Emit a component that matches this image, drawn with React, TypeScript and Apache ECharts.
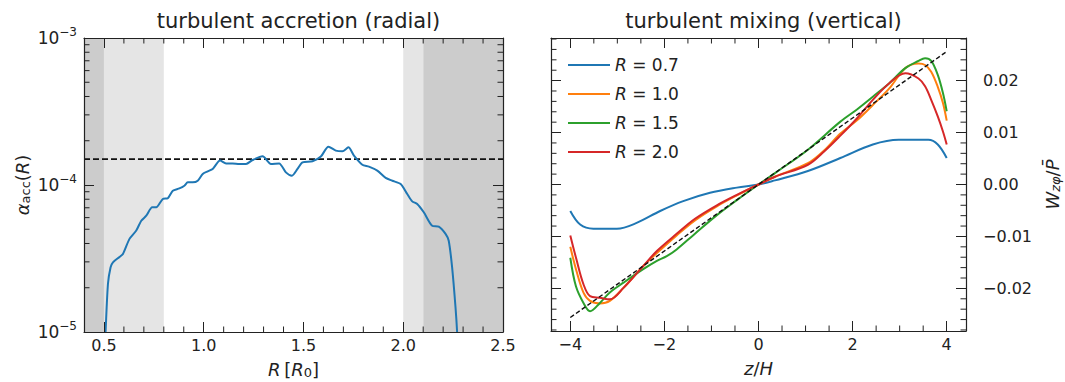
import React, { useEffect, useRef } from "react";
import * as echarts from "echarts";

// ---- radial profile: accretion stress alpha_acc(R) ----
const radius = [0.497, 0.508, 0.52, 0.533, 0.545, 0.578, 0.595, 0.628, 0.662, 0.687, 0.712, 0.742, 0.762, 0.795, 0.82, 0.845, 0.878, 0.903, 0.92, 0.945, 0.97, 0.995, 1.02, 1.045, 1.082, 1.112, 1.145, 1.178, 1.212, 1.245, 1.295, 1.337, 1.378, 1.412, 1.442, 1.47, 1.495, 1.545, 1.587, 1.625, 1.662, 1.695, 1.725, 1.753, 1.795, 1.828, 1.87, 1.912, 1.945, 1.987, 2.02, 2.045, 2.07, 2.103, 2.145, 2.178, 2.212, 2.228, 2.245, 2.262, 2.27, 2.28];
const alphaAcc = [5.0e-6, 1.0e-5, 2.12e-5, 2.75e-5, 2.98e-5, 3.24e-5, 3.39e-5, 4.3e-5, 4.9e-5, 5.71e-5, 6.18e-5, 7.05e-5, 7.05e-5, 8.04e-5, 8.13e-5, 9.14e-5, 9.48e-5, 9.89e-5, 1.042e-4, 1.042e-4, 1.069e-4, 1.189e-4, 1.239e-4, 1.285e-4, 1.466e-4, 1.403e-4, 1.403e-4, 1.39e-4, 1.39e-4, 1.479e-4, 1.567e-4, 1.39e-4, 1.403e-4, 1.219e-4, 1.156e-4, 1.285e-4, 1.426e-4, 1.449e-4, 1.56e-4, 1.824e-4, 1.714e-4, 1.694e-4, 1.803e-4, 1.585e-4, 1.374e-4, 1.334e-4, 1.253e-4, 1.117e-4, 1.069e-4, 1.016e-4, 8.69e-5, 7.74e-5, 7.43e-5, 6.52e-5, 5.28e-5, 5.21e-5, 4.65e-5, 4.18e-5, 2.75e-5, 1.47e-5, 1.0e-5, 5.0e-6];
const alphaMean = 1.5e-4;
const radialRange = [0.4, 2.5];
const alphaRange = [1e-5, 1e-3];
// buffer zones of the domain
const darkZones = [[0.4, 0.5], [2.1, 2.5]];
const lightZones = [[0.5, 0.8], [2.0, 2.1]];

// ---- vertical profiles: W_zphi / P at several radii ----
const zR07 = [-4.0, -3.79, -3.51, -3.01, -2.59, -2.09, -1.6, -1.03, -0.46, 0, 0.35, 1.05, 1.74, 2.43, 2.98, 3.61, 3.81, 4.0];
const wR07 = [-0.0051, -0.0077, -0.0085, -0.0085, -0.0074, -0.0051, -0.0032, -0.0016, -0.0006, 0, 0.0008, 0.0026, 0.0051, 0.0077, 0.0086, 0.0086, 0.0077, 0.0051];

const zR10 = [-4.0, -3.87, -3.72, -3.58, -3.37, -3.16, -2.87, -2.45, -2.16, -1.74, -1.35, -0.885, -0.46, 0, 0.35, 1.05, 1.4, 1.74, 2.1, 2.43, 2.78, 3.12, 3.4, 3.54, 3.67, 3.81, 3.92, 4.0];
const wR10 = [-0.012, -0.0166, -0.0208, -0.0224, -0.0229, -0.0224, -0.0199, -0.0157, -0.0132, -0.0098, -0.0069, -0.0042, -0.0021, 0, 0.0015, 0.0041, 0.0066, 0.0098, 0.0124, 0.0153, 0.0185, 0.0224, 0.0233, 0.023, 0.0217, 0.0188, 0.0157, 0.0123];

const zR15 = [-4.0, -3.88, -3.72, -3.58, -3.37, -3.16, -2.87, -2.45, -2.16, -1.95, -1.74, -1.38, -0.885, -0.46, 0, 0.35, 1.05, 1.74, 2.1, 2.43, 2.78, 3.12, 3.4, 3.54, 3.67, 3.81, 3.92, 4.0];
const wR15 = [-0.0141, -0.0196, -0.0228, -0.0244, -0.0228, -0.0208, -0.0189, -0.0163, -0.0147, -0.0138, -0.0125, -0.0097, -0.0059, -0.003, 0, 0.0022, 0.0067, 0.0121, 0.0145, 0.0169, 0.0195, 0.0224, 0.0238, 0.0243, 0.0238, 0.0211, 0.0176, 0.0141];

const zR20 = [-4.0, -3.87, -3.72, -3.58, -3.37, -3.16, -2.87, -2.45, -2.16, -1.74, -1.35, -0.885, -0.46, 0, 0.35, 1.05, 1.4, 1.74, 2.1, 2.43, 2.78, 3.12, 3.4, 3.54, 3.67, 3.81, 3.92, 4.0];
const wR20 = [-0.0098, -0.0144, -0.0192, -0.0215, -0.0218, -0.0221, -0.0199, -0.0157, -0.0128, -0.0095, -0.0066, -0.004, -0.002, 0, 0.0015, 0.0038, 0.0064, 0.0094, 0.0128, 0.0163, 0.0195, 0.0214, 0.0204, 0.0189, 0.0163, 0.0131, 0.0102, 0.0077];

const profileLabels = ["R = 0.7", "R = 1.0", "R = 1.5", "R = 2.0"];
const profileColors = ["#1f77b4", "#ff7f0e", "#2ca02c", "#d62728"];
// linear reference W = slope * z
const fitZ = [-4, 4];
const fitW = [-0.0256, 0.0256];
const zRange = [-4.41, 4.41];
const wRange = [-0.0282, 0.0282];

const FONT = "'DejaVu Sans', sans-serif";
const INK = "#222222";

const zip = (xs: number[], ys: number[]) => xs.map((x, i) => [x, ys[i]]);
const near = (v: number, step: number) => Math.abs(v / step - Math.round(v / step)) < 1e-6;
const minus = (s: string) => s.replace("-", "\u2212");

// minor tick positions
const leftMinorX: number[] = [];
for (let k = 5; k <= 25; k++) if (k % 5 !== 0) leftMinorX.push(k / 10);
const leftMinorY: number[] = [];
for (const dec of [1e-5, 1e-4]) for (let m = 2; m <= 9; m++) leftMinorY.push(m * dec);
const rightMinorX: number[] = [];
for (let k = -8; k <= 8; k++) if (k % 4 !== 0) rightMinorX.push(k / 2);
const rightMinorY: number[] = [];
for (let k = -14; k <= 14; k++) if (k % 5 !== 0) rightMinorY.push(k * 0.002);

const MINOR_LEN = 5.5;
const MAJOR_LEN = 10;

const minorTicks = (params: any, api: any) => {
  const cs = params.coordSys;
  const kind = api.value(2);
  const p = api.coord([api.value(0), api.value(1)]);
  const style = { stroke: INK, lineWidth: 1 };
  if (kind === 0) {
    const b = cs.y + cs.height;
    const t = cs.y;
    return {
      type: "group",
      children: [
        { type: "line", shape: { x1: p[0], y1: b, x2: p[0], y2: b - MINOR_LEN }, style },
        { type: "line", shape: { x1: p[0], y1: t, x2: p[0], y2: t + MINOR_LEN }, style },
      ],
    };
  }
  const l = cs.x;
  const r = cs.x + cs.width;
  return {
    type: "group",
    children: [
      { type: "line", shape: { x1: l, y1: p[1], x2: l + MINOR_LEN, y2: p[1] }, style },
      { type: "line", shape: { x1: r, y1: p[1], x2: r - MINOR_LEN, y2: p[1] }, style },
    ],
  };
};

// rich styles for axis titles (math-like italics, subscripts)
const rich = {
  i: { fontFamily: FONT, fontStyle: "italic", fontSize: 18, color: INK, lineHeight: 20 },
  n: { fontFamily: FONT, fontSize: 18, color: INK, lineHeight: 20 },
  sub: { fontFamily: FONT, fontSize: 13, color: INK, lineHeight: 12, verticalAlign: "bottom" },
  subi: { fontFamily: FONT, fontSize: 13, fontStyle: "italic", color: INK, lineHeight: 12, verticalAlign: "bottom" },
};

const frameLine = { show: true, onZero: false, lineStyle: { color: INK, width: 1.2 } };
const majorTick = { show: true, inside: true, length: MAJOR_LEN, lineStyle: { color: INK, width: 1 } };
const tickLabel = { color: INK, fontFamily: FONT, fontSize: 16 };

export default function App() {
  const ref = useRef<HTMLDivElement>(null);

  useEffect(() => {
    if (!ref.current) return;
    const chart = echarts.init(ref.current, undefined, { renderer: "svg" });

    const left = { left: 84, top: 38, width: 419, height: 294, outerBoundsMode: "none" };
    const right = { left: 551, top: 38, width: 415, height: 293, outerBoundsMode: "none" };

    const option: any = {
      animation: false,
      textStyle: { fontFamily: FONT, color: INK },
      title: [
        {
          text: "turbulent accretion (radial)",
          left: left.left + left.width / 2,
          top: 5,
          textAlign: "center",
          textStyle: { fontFamily: FONT, fontSize: 21, fontWeight: "normal", color: INK },
        },
        {
          text: "turbulent mixing (vertical)",
          left: right.left + right.width / 2,
          top: 5,
          textAlign: "center",
          textStyle: { fontFamily: FONT, fontSize: 21, fontWeight: "normal", color: INK },
        },
      ],
      grid: [left, right],
      legend: {
        orient: "vertical",
        left: 568,
        top: 56,
        padding: 0,
        icon: "rect",
        itemWidth: 42,
        itemHeight: 2.2,
        itemGap: 11,
        data: profileLabels,
        formatter: (name: string) => `{i|R}{n| = ${name.split("= ")[1]}}`,
        textStyle: {
          fontFamily: FONT,
          fontSize: 17,
          lineHeight: 18,
          rich: {
            i: { fontFamily: FONT, fontStyle: "italic", fontSize: 17, color: INK },
            n: { fontFamily: FONT, fontSize: 17, color: INK },
          },
        },
      },
      xAxis: [
        {
          type: "value",
          gridIndex: 0,
          position: "bottom",
          min: radialRange[0],
          max: radialRange[1],
          splitNumber: 4,
          axisLine: frameLine,
          axisTick: majorTick,
          splitLine: { show: false },
          axisLabel: {
            ...tickLabel,
            margin: 5,
            formatter: (v: number) => (near(v, 0.5) && v >= 0.5 ? v.toFixed(1) : ""),
          },
          name: "{i|R} {n|[}{i|R}{sub|0}{n|]}",
          nameLocation: "middle",
          nameGap: 27,
          nameTextStyle: { rich },
          z: 5,
        },
        {
          type: "value",
          gridIndex: 0,
          position: "top",
          min: radialRange[0],
          max: radialRange[1],
          splitNumber: 4,
          axisLine: frameLine,
          axisTick: majorTick,
          splitLine: { show: false },
          axisLabel: { show: false },
          z: 5,
        },
        {
          type: "value",
          gridIndex: 1,
          position: "bottom",
          min: zRange[0],
          max: zRange[1],
          splitNumber: 4,
          axisLine: frameLine,
          axisTick: majorTick,
          splitLine: { show: false },
          axisLabel: {
            ...tickLabel,
            margin: 5,
            formatter: (v: number) => (near(v, 2) && Math.abs(v) <= 4 ? minus(String(Math.round(v))) : ""),
          },
          name: "{i|z}{n|/}{i|H}",
          nameLocation: "middle",
          nameGap: 27,
          nameTextStyle: { rich },
          z: 5,
        },
        {
          type: "value",
          gridIndex: 1,
          position: "top",
          min: zRange[0],
          max: zRange[1],
          splitNumber: 4,
          axisLine: frameLine,
          axisTick: majorTick,
          splitLine: { show: false },
          axisLabel: { show: false },
          z: 5,
        },
      ],
      yAxis: [
        {
          type: "log",
          logBase: 10,
          gridIndex: 0,
          position: "left",
          min: alphaRange[0],
          max: alphaRange[1],
          axisLine: frameLine,
          axisTick: majorTick,
          splitLine: { show: false },
          axisLabel: {
            margin: 7,
            formatter: (v: number) => `{b|10}{s|${minus(String(Math.round(Math.log10(v))))}}`,
            rich: {
              b: { fontFamily: FONT, fontSize: 17, color: INK, lineHeight: 24 },
              s: { fontFamily: FONT, fontSize: 12, color: INK, lineHeight: 12, verticalAlign: "top" },
            },
          },
          name: "{i|α}{sub|acc}{n|(}{i|R}{n|)}",
          nameLocation: "middle",
          nameRotate: 90,
          nameGap: 52,
          nameTextStyle: { rich },
          z: 5,
        },
        {
          type: "log",
          logBase: 10,
          gridIndex: 0,
          position: "right",
          min: alphaRange[0],
          max: alphaRange[1],
          axisLine: frameLine,
          axisTick: majorTick,
          splitLine: { show: false },
          axisLabel: { show: false },
          z: 5,
        },
        {
          type: "value",
          gridIndex: 1,
          position: "right",
          min: wRange[0],
          max: wRange[1],
          splitNumber: 5,
          axisLine: frameLine,
          axisTick: majorTick,
          splitLine: { show: false },
          axisLabel: {
            ...tickLabel,
            margin: 17,
            formatter: (v: number) => (near(v, 0.01) && Math.abs(v) < 0.025 ? minus((Math.abs(v) < 1e-9 ? 0 : v).toFixed(2)) : ""),
          },
          name: "{i|W}{subi|zφ}{n|/}{i|P̄}",
          nameLocation: "middle",
          nameRotate: 90,
          nameGap: 76,
          nameTextStyle: { rich },
          z: 5,
        },
        {
          type: "value",
          gridIndex: 1,
          position: "left",
          min: wRange[0],
          max: wRange[1],
          splitNumber: 5,
          axisLine: frameLine,
          axisTick: majorTick,
          splitLine: { show: false },
          axisLabel: { show: false },
          z: 5,
        },
      ],
      series: [
        // shaded buffer zones
        {
          type: "line",
          xAxisIndex: 0,
          yAxisIndex: 0,
          data: [[radialRange[0], alphaMean]],
          symbol: "none",
          lineStyle: { opacity: 0 },
          silent: true,
          z: 1,
          markArea: {
            silent: true,
            data: [
              ...darkZones.map(([a, b]) => [{ xAxis: a, itemStyle: { color: "#cccccc" } }, { xAxis: b }]),
              ...lightZones.map(([a, b]) => [{ xAxis: a, itemStyle: { color: "#e5e5e5" } }, { xAxis: b }]),
            ],
          },
        },
        {
          type: "line",
          xAxisIndex: 0,
          yAxisIndex: 0,
          data: [[radialRange[0], alphaMean], [radialRange[1], alphaMean]],
          symbol: "none",
          lineStyle: { color: "#111111", width: 1.6, type: [6, 3] },
          silent: true,
          z: 3,
        },
        {
          type: "line",
          xAxisIndex: 0,
          yAxisIndex: 0,
          data: zip(radius, alphaAcc),
          symbol: "none",
          smooth: 0.25,
          clip: true,
          lineStyle: { color: "#1f77b4", width: 2 },
          silent: true,
          z: 4,
        },
        ...[zip(zR07, wR07), zip(zR10, wR10), zip(zR15, wR15), zip(zR20, wR20)].map((d, i) => ({
          type: "line",
          name: profileLabels[i],
          xAxisIndex: 2,
          yAxisIndex: 2,
          data: d,
          symbol: "none",
          smooth: 0.35,
          color: profileColors[i],
          lineStyle: { color: profileColors[i], width: 2 },
          silent: true,
          z: 3 + i * 0.1,
        })),
        {
          type: "line",
          xAxisIndex: 2,
          yAxisIndex: 2,
          data: zip(fitZ, fitW),
          symbol: "none",
          lineStyle: { color: "#111111", width: 1.4, type: [4.5, 2.5] },
          silent: true,
          z: 4,
        },
        // minor ticks on all four sides
        {
          type: "custom",
          xAxisIndex: 0,
          yAxisIndex: 0,
          renderItem: minorTicks,
          data: [
            ...leftMinorX.map((v) => [v, 1e-4, 0]),
            ...leftMinorY.map((v) => [1, v, 1]),
          ],
          silent: true,
          z: 6,
        },
        {
          type: "custom",
          xAxisIndex: 2,
          yAxisIndex: 2,
          renderItem: minorTicks,
          data: [
            ...rightMinorX.map((v) => [v, 0, 0]),
            ...rightMinorY.map((v) => [0, v, 1]),
          ],
          silent: true,
          z: 6,
        },
      ],
    };

    chart.setOption(option);
    return () => chart.dispose();
  }, []);

  return (
    <div
      ref={ref}
      style={{ position: "fixed", left: 0, top: 0, width: 1065, height: 382, background: "#ffffff" }}
    />
  );
}
